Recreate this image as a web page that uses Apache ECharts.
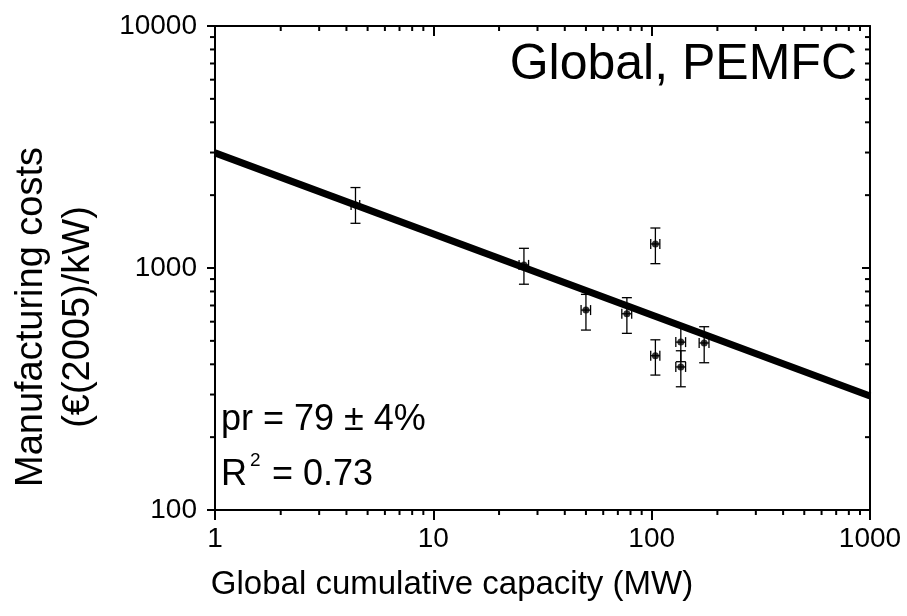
<!DOCTYPE html>
<html>
<head>
<meta charset="utf-8">
<title>Global, PEMFC</title>
<script src="https://cdn.jsdelivr.net/npm/echarts@6/dist/echarts.min.js"></script>
<style>
  html, body {margin:0;padding:0;background:#fff;}
  #main {width:907px;height:616px;}
</style>
</head>
<body>
<div id="main"></div>
<script>
// global cumulative capacity (MW), with x error bars
var capacity = [4.4, 26, 50, 77, 104, 104, 136, 136, 174];
var capLow   = [4.2, 24.7, 47.5, 73, 99, 99, 129, 129, 165];
var capHigh  = [4.6, 27.3, 52.5, 81, 109, 109, 143, 143, 183];
// manufacturing costs (EUR2005/kW), with y error bars
var cost     = [1820, 1030, 670, 647, 1257, 434, 494, 390, 490];
var costLow  = [1530, 857, 554, 537, 1042, 361, 410, 323, 406];
var costHigh = [2150, 1206, 778, 754, 1463, 505, 578, 455, 572];
// fitted learning curve (pr = 79%)
var fitX = [1, 1000];
var fitY = [2990, 296];
// minor tick values
var xMinor = [2, 3, 4, 5, 6, 7, 8, 9, 20, 30, 40, 50, 60, 70, 80, 90, 200, 300, 400, 500, 600, 700, 800, 900];
var yMinor = [200, 300, 400, 500, 600, 700, 800, 900, 2000, 3000, 4000, 5000, 6000, 7000, 8000, 9000];

var font = 'Liberation Sans, Arial, Helvetica, sans-serif';
var chart = echarts.init(document.getElementById('main'));

var points = [], errs = [], fit = [], xm = [], ym = [];
for (var i = 0; i < capacity.length; i++) {
  points.push([capacity[i], cost[i]]);
  errs.push([capacity[i], cost[i], capLow[i], capHigh[i], costLow[i], costHigh[i]]);
}
for (var i = 0; i < fitX.length; i++) fit.push([fitX[i], fitY[i]]);
for (var i = 0; i < xMinor.length; i++) xm.push([xMinor[i], 100]);
for (var i = 0; i < yMinor.length; i++) ym.push([1, yMinor[i]]);

function seg(x1, y1, x2, y2, w) {
  return {type: 'line', shape: {x1: x1, y1: y1, x2: x2, y2: y2},
    style: {stroke: '#000', lineWidth: w}};
}

// error bars with caps
function renderErr(params, api) {
  var c = api.coord([api.value(0), api.value(1)]);
  var xl = api.coord([api.value(2), api.value(1)]);
  var xh = api.coord([api.value(3), api.value(1)]);
  var yl = api.coord([api.value(0), api.value(4)]);
  var yh = api.coord([api.value(0), api.value(5)]);
  var w = 5, lw = 1.3;
  return {type: 'group', children: [
    seg(c[0], yl[1], c[0], yh[1], lw),
    seg(c[0] - w, yl[1], c[0] + w, yl[1], lw),
    seg(c[0] - w, yh[1], c[0] + w, yh[1], lw),
    seg(xl[0], c[1], xh[0], c[1], lw),
    seg(xl[0], c[1] - w, xl[0], c[1] + w, lw),
    seg(xh[0], c[1] - w, xh[0], c[1] + w, lw)
  ]};
}

// minor ticks: bottom outward, top inward
function renderXMinor(params, api) {
  var b = api.coord([api.value(0), 100]);
  var t = api.coord([api.value(0), 10000]);
  return {type: 'group', children: [
    seg(b[0], b[1], b[0], b[1] + 5, 2),
    seg(t[0], t[1], t[0], t[1] + 5, 2)
  ]};
}
// minor ticks: left outward, right inward
function renderYMinor(params, api) {
  var l = api.coord([1, api.value(1)]);
  var r = api.coord([1000, api.value(1)]);
  return {type: 'group', children: [
    seg(l[0] - 5, l[1], l[0], l[1], 2),
    seg(r[0] - 5, r[1], r[0], r[1], 2)
  ]};
}

function fmt(v) { return String(Math.round(v)); }

var axisLine = {show: true, lineStyle: {color: '#000', width: 2}};
var tickStyle = {color: '#000', width: 2};

var option = {
  backgroundColor: '#fff',
  animation: false,
  grid: {left: 215, right: 37, top: 26, bottom: 106, containLabel: false, outerBoundsMode: 'none'},
  xAxis: [
    {type: 'log', logBase: 10, min: 1, max: 1000, position: 'bottom',
      axisLine: axisLine, axisTick: {inside: false, length: 10, lineStyle: tickStyle},
      axisLabel: {color: '#000', fontSize: 28, fontFamily: font, margin: 15, formatter: fmt},
      splitLine: {show: false}},
    {type: 'log', logBase: 10, min: 1, max: 1000, position: 'top',
      axisLine: axisLine, axisTick: {inside: true, length: 10, lineStyle: tickStyle},
      axisLabel: {show: false}, splitLine: {show: false}}
  ],
  yAxis: [
    {type: 'log', logBase: 10, min: 100, max: 10000, position: 'left',
      axisLine: axisLine, axisTick: {inside: false, length: 8, lineStyle: tickStyle},
      axisLabel: {color: '#000', fontSize: 28, fontFamily: font, margin: 18, formatter: fmt},
      splitLine: {show: false}},
    {type: 'log', logBase: 10, min: 100, max: 10000, position: 'right',
      axisLine: axisLine, axisTick: {inside: true, length: 8, lineStyle: tickStyle},
      axisLabel: {show: false}, splitLine: {show: false}}
  ],
  series: [
    {type: 'line', data: fit, symbol: 'none', silent: true,
      lineStyle: {color: '#000', width: 7}},
    {type: 'custom', data: errs, renderItem: renderErr, clip: false, silent: true, z: 3},
    {type: 'scatter', data: points, symbol: 'circle', symbolSize: 7, z: 4,
      itemStyle: {color: '#000'}},
    {type: 'custom', data: xm, renderItem: renderXMinor, clip: false, silent: true},
    {type: 'custom', data: ym, renderItem: renderYMinor, clip: false, silent: true}
  ],
  graphic: [
    {type: 'text', x: 857, y: 65, style: {text: 'Global, PEMFC', font: '50px ' + font, fill: '#000',
      align: 'right', verticalAlign: 'middle'}},
    {type: 'text', x: 221, y: 420, style: {text: 'pr = 79 \u00b1 4%', font: '36px ' + font, fill: '#000',
      verticalAlign: 'middle'}},
    {type: 'text', x: 221, y: 475, style: {text: 'R', font: '36px ' + font, fill: '#000',
      verticalAlign: 'middle'}},
    {type: 'text', x: 250, y: 461, style: {text: '2', font: '19px ' + font, fill: '#000',
      verticalAlign: 'middle'}},
    {type: 'text', x: 262, y: 475, style: {text: ' = 0.73', font: '36px ' + font, fill: '#000',
      verticalAlign: 'middle'}},
    {type: 'text', x: 55, y: 317, rotation: Math.PI / 2,
      style: {text: 'Manufacturing costs\n(\u20ac(2005)/kW)', font: '38px ' + font, fill: '#000',
        align: 'center', verticalAlign: 'middle', lineHeight: 47}},
    {type: 'text', x: 452, y: 585,
      style: {text: 'Global cumulative capacity (MW)', font: '33px ' + font, fill: '#000',
        align: 'center', verticalAlign: 'middle'}}
  ]
};
chart.setOption(option);
</script>
</body>
</html>
